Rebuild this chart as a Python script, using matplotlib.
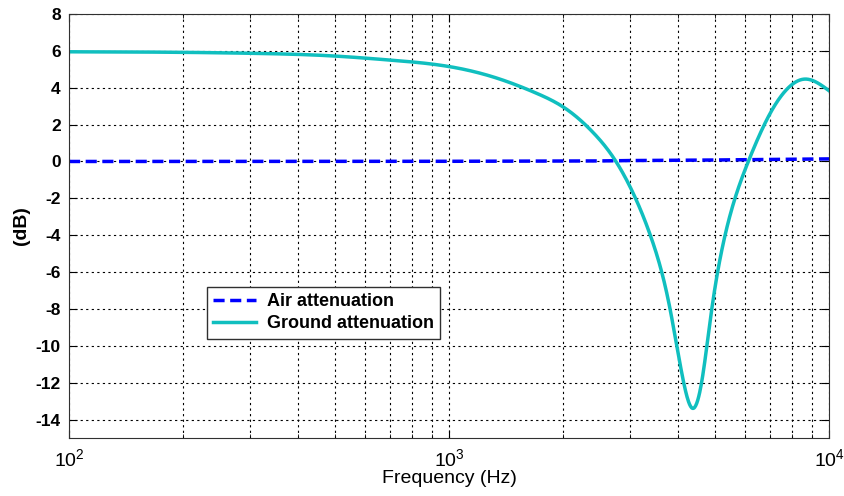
import matplotlib.pyplot as plt
import numpy as np

# frequency samples (Hz) and attenuation values (dB)
freq_ground = [100, 200, 300, 500, 700, 1000, 1300, 1700, 2000, 2400, 2700, 3000,
               3400, 3800, 4100, 4374, 4620, 4900, 5300, 6133, 7000, 7817, 8650, 10000]
ground_db = [5.95, 5.92, 5.87, 5.72, 5.5, 5.15, 4.6, 3.7, 2.95, 1.55, 0.25, -1.4,
             -4.1, -7.8, -11.5, -13.39, -12.0, -8.2, -4.2, 0.0, 2.61, 4.0, 4.47, 3.84]

freq_air = [100, 1000, 2500, 3000, 5000, 7000, 10000]
air_db = [0.0, 0.01, 0.03, 0.05, 0.08, 0.11, 0.14]

yticks = list(range(-14, 9, 2))


def natural_spline(x, y, xs):
    # natural cubic spline through (x, y), evaluated at xs
    x = np.asarray(x, float)
    y = np.asarray(y, float)
    n = len(x)
    h = np.diff(x)
    A = np.zeros((n, n))
    b = np.zeros(n)
    A[0, 0] = A[-1, -1] = 1.0
    for i in range(1, n - 1):
        A[i, i - 1] = h[i - 1]
        A[i, i] = 2 * (h[i - 1] + h[i])
        A[i, i + 1] = h[i]
        b[i] = 6 * ((y[i + 1] - y[i]) / h[i] - (y[i] - y[i - 1]) / h[i - 1])
    M = np.linalg.solve(A, b)
    k = np.clip(np.searchsorted(x, xs) - 1, 0, n - 2)
    t0 = x[k + 1] - xs
    t1 = xs - x[k]
    hk = h[k]
    return (M[k] * t0**3 / (6 * hk) + M[k + 1] * t1**3 / (6 * hk)
            + (y[k] / hk - M[k] * hk / 6) * t0
            + (y[k + 1] / hk - M[k + 1] * hk / 6) * t1)


plt.rcParams["font.family"] = ["Liberation Sans", "DejaVu Sans"]
plt.rcParams["mathtext.fontset"] = "custom"
plt.rcParams["mathtext.rm"] = "Liberation Sans:bold"
plt.rcParams["mathtext.bf"] = "Liberation Sans:bold"
plt.rcParams["mathtext.default"] = "bf"

fig = plt.figure(figsize=(8.45, 4.96), dpi=100)
ax = fig.add_axes([69 / 845, 58 / 496, 760 / 845, 424 / 496])

# smooth the ground curve in log-frequency space
lf = np.log10(freq_ground)
fine = np.linspace(lf[0], lf[-1], 1500)
g_fine = natural_spline(lf, ground_db, fine)

ax.plot(freq_air, air_db, color="#0000ff", linestyle="--", linewidth=2.5,
        dashes=(3.2, 1.6), label="Air attenuation")
ax.plot(10 ** fine, g_fine, color="#10bfbf", linewidth=2.5, label="Ground attenuation")

ax.set_xscale("log")
ax.set_xlim(100, 10000)
ax.set_ylim(-15, 8)
ax.set_yticks(yticks)
ax.set_yticklabels([str(t) for t in yticks])

ax.grid(True, which="both", color="black", linestyle=(0, (2, 3)), linewidth=0.8)
ax.tick_params(which="both", direction="in", top=True, right=True, labelsize=12.5)
ax.tick_params(axis="x", which="major", labelsize=14, pad=7)
ax.tick_params(which="major", length=6)
ax.tick_params(axis="y", pad=6)
ax.tick_params(which="minor", length=3)
for lbl in ax.get_yticklabels():
    lbl.set_fontweight("bold")
for sp in ax.spines.values():
    sp.set_color("#303030")

ax.set_xlabel("Frequency (Hz)", fontsize=14, labelpad=0)
ax.set_ylabel("(dB)", fontsize=14, fontweight="bold", labelpad=4)

leg = ax.legend(loc="upper left", bbox_to_anchor=(0.181, 0.357), fancybox=False,
                edgecolor="#303030", framealpha=1, handlelength=2.4,
                prop={"size": 13, "weight": "bold"}, borderpad=0.35,
                labelspacing=0.3, handletextpad=0.6, borderaxespad=0)
leg.get_frame().set_linewidth(1.0)

fig.savefig("out.png", dpi=100)
